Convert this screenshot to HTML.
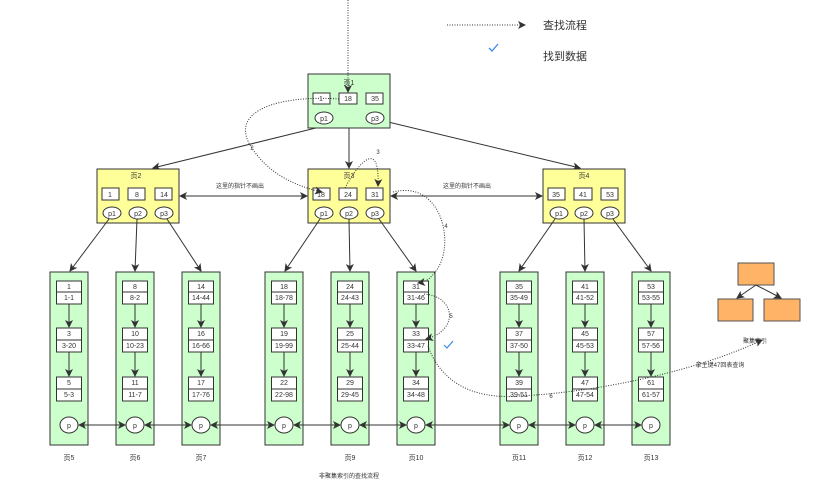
<!DOCTYPE html>
<html><head><meta charset="utf-8"><style>
body{margin:0;background:#fff}
svg{display:block}
text{font-family:"Liberation Sans","Noto Sans CJK SC",sans-serif;fill:#333}
</style></head><body>
<svg width="819" height="502" viewBox="0 0 819 502" xmlns="http://www.w3.org/2000/svg">
<defs>
<marker id="a" markerWidth="8" markerHeight="8" refX="7" refY="4" orient="auto" markerUnits="userSpaceOnUse"><path d="M0,0 L8,4 L0,8 L2,4 z" fill="#333"/></marker>
<marker id="b" markerWidth="8" markerHeight="8" refX="1" refY="4" orient="auto" markerUnits="userSpaceOnUse"><path d="M8,0 L0,4 L8,8 L6,4 z" fill="#333"/></marker>
</defs>
<g font-size="7" text-anchor="middle">
<!-- legend -->
<line x1="447" y1="25" x2="525" y2="25" stroke="#333" stroke-dasharray="1,1.5" marker-end="url(#a)"/>
<text x="565" y="29" font-size="11">查找流程</text>
<path d="M489,48 l3,3 l6,-7" stroke="#3c8ce7" stroke-width="1.3" fill="none"/>
<text x="565" y="60" font-size="11">找到数据</text>

<!-- connectors top -->
<line x1="324" y1="126" x2="153" y2="168" stroke="#333" marker-end="url(#a)"/>
<line x1="349" y1="128" x2="349" y2="168" stroke="#333" marker-end="url(#a)"/>
<line x1="384" y1="121" x2="580" y2="168" stroke="#333" marker-end="url(#a)"/>
<line x1="180" y1="196" x2="307" y2="196" stroke="#333" marker-start="url(#b)" marker-end="url(#a)"/>
<line x1="391" y1="196" x2="542" y2="196" stroke="#333" marker-start="url(#b)" marker-end="url(#a)"/>
<text x="240" y="188" font-size="6">这里的指针不画出</text>
<text x="467" y="188" font-size="6">这里的指针不画出</text>

<!-- page1 -->
<rect x="308" y="74" width="82" height="54" fill="#ccffcc" stroke="#333"/>
<text x="349" y="85">页1</text>
<rect x="313" y="93" width="17" height="11" fill="#fff" stroke="#333"/><text x="321" y="101">1</text>
<rect x="339" y="93" width="18" height="11" fill="#fff" stroke="#333"/><text x="348" y="101">18</text>
<rect x="366" y="93" width="17" height="11" fill="#fff" stroke="#333"/><text x="375" y="101">35</text>
<ellipse cx="324" cy="118" rx="9" ry="6" fill="#fff" stroke="#333"/><text x="324" y="121">p1</text>
<ellipse cx="375" cy="118" rx="9" ry="6" fill="#fff" stroke="#333"/><text x="375" y="121">p3</text>

<!-- page2 -->
<rect x="97" y="169" width="82" height="54" fill="#ffff99" stroke="#333"/>
<text x="136" y="178">页2</text>
<rect x="102" y="188" width="17" height="12" fill="#fff" stroke="#333"/><text x="110" y="197">1</text>
<rect x="128" y="188" width="17" height="12" fill="#fff" stroke="#333"/><text x="137" y="197">8</text>
<rect x="155" y="188" width="17" height="12" fill="#fff" stroke="#333"/><text x="164" y="197">14</text>
<ellipse cx="112" cy="213" rx="9" ry="6" fill="#fff" stroke="#333"/><text x="112" y="216">p1</text>
<ellipse cx="138" cy="213" rx="9" ry="6" fill="#fff" stroke="#333"/><text x="138" y="216">p2</text>
<ellipse cx="164" cy="213" rx="9" ry="6" fill="#fff" stroke="#333"/><text x="164" y="216">p3</text>
<!-- page3 -->
<rect x="308" y="169" width="82" height="54" fill="#ffff99" stroke="#333"/>
<text x="349" y="178">页3</text>
<rect x="313" y="188" width="17" height="12" fill="#fff" stroke="#333"/><text x="321" y="197">18</text>
<rect x="339" y="188" width="18" height="12" fill="#fff" stroke="#333"/><text x="348" y="197">24</text>
<rect x="366" y="188" width="17" height="12" fill="#fff" stroke="#333"/><text x="375" y="197">31</text>
<ellipse cx="324" cy="213" rx="9" ry="6" fill="#fff" stroke="#333"/><text x="324" y="216">p1</text>
<ellipse cx="349" cy="213" rx="9" ry="6" fill="#fff" stroke="#333"/><text x="349" y="216">p2</text>
<ellipse cx="375" cy="213" rx="9" ry="6" fill="#fff" stroke="#333"/><text x="375" y="216">p3</text>
<!-- page4 -->
<rect x="543" y="169" width="82" height="54" fill="#ffff99" stroke="#333"/>
<text x="584" y="178">页4</text>
<rect x="548" y="188" width="17" height="12" fill="#fff" stroke="#333"/><text x="556" y="197">35</text>
<rect x="574" y="188" width="18" height="12" fill="#fff" stroke="#333"/><text x="583" y="197">41</text>
<rect x="601" y="188" width="17" height="12" fill="#fff" stroke="#333"/><text x="610" y="197">53</text>
<ellipse cx="559" cy="213" rx="9" ry="6" fill="#fff" stroke="#333"/><text x="559" y="216">p1</text>
<ellipse cx="584" cy="213" rx="9" ry="6" fill="#fff" stroke="#333"/><text x="584" y="216">p2</text>
<ellipse cx="610" cy="213" rx="9" ry="6" fill="#fff" stroke="#333"/><text x="610" y="216">p3</text>

<!-- down connectors -->
<g stroke="#333" fill="none" marker-end="url(#a)">
<line x1="109" y1="219" x2="70" y2="271"/>
<line x1="137" y1="219" x2="135" y2="271"/>
<line x1="167" y1="219" x2="201" y2="271"/>
<line x1="320" y1="219" x2="285" y2="271"/>
<line x1="349" y1="219" x2="350" y2="271"/>
<line x1="379" y1="219" x2="416" y2="271"/>
<line x1="555" y1="219" x2="519" y2="271"/>
<line x1="584" y1="219" x2="585" y2="271"/>
<line x1="613" y1="219" x2="651" y2="271"/>
</g>

<!-- leaves -->
<g id="leaves">
<!-- col template: rect col, boxes -->
<g transform="translate(50,0)"><rect x="0" y="272" width="38" height="173" fill="#ccffcc" stroke="#333"/><rect x="6.5" y="281" width="25" height="23" fill="#fff" stroke="#333"/><line x1="6.5" y1="292" x2="31.5" y2="292" stroke="#333"/><text x="19" y="289">1</text><text x="19" y="300">1-1</text><rect x="6.5" y="328" width="25" height="24" fill="#fff" stroke="#333"/><line x1="6.5" y1="340" x2="31.5" y2="340" stroke="#333"/><text x="19" y="336">3</text><text x="19" y="348">3-20</text><rect x="6.5" y="377" width="25" height="24" fill="#fff" stroke="#333"/><line x1="6.5" y1="389" x2="31.5" y2="389" stroke="#333"/><text x="19" y="385">5</text><text x="19" y="397">5-3</text><line x1="19" y1="304" x2="19" y2="327" stroke="#333" marker-end="url(#a)"/><line x1="19" y1="352" x2="19" y2="376" stroke="#333" marker-end="url(#a)"/><ellipse cx="19" cy="425" rx="9" ry="8" fill="#fff" stroke="#333"/><text x="19" y="428">p</text><text x="19" y="460">页5</text></g>
<g transform="translate(116,0)"><rect x="0" y="272" width="38" height="173" fill="#ccffcc" stroke="#333"/><rect x="6.5" y="281" width="25" height="23" fill="#fff" stroke="#333"/><line x1="6.5" y1="292" x2="31.5" y2="292" stroke="#333"/><text x="19" y="289">8</text><text x="19" y="300">8-2</text><rect x="6.5" y="328" width="25" height="24" fill="#fff" stroke="#333"/><line x1="6.5" y1="340" x2="31.5" y2="340" stroke="#333"/><text x="19" y="336">10</text><text x="19" y="348">10-23</text><rect x="6.5" y="377" width="25" height="24" fill="#fff" stroke="#333"/><line x1="6.5" y1="389" x2="31.5" y2="389" stroke="#333"/><text x="19" y="385">11</text><text x="19" y="397">11-7</text><line x1="19" y1="304" x2="19" y2="327" stroke="#333" marker-end="url(#a)"/><line x1="19" y1="352" x2="19" y2="376" stroke="#333" marker-end="url(#a)"/><ellipse cx="19" cy="425" rx="9" ry="8" fill="#fff" stroke="#333"/><text x="19" y="428">p</text><text x="19" y="460">页6</text></g>
<g transform="translate(182,0)"><rect x="0" y="272" width="38" height="173" fill="#ccffcc" stroke="#333"/><rect x="6.5" y="281" width="25" height="23" fill="#fff" stroke="#333"/><line x1="6.5" y1="292" x2="31.5" y2="292" stroke="#333"/><text x="19" y="289">14</text><text x="19" y="300">14-44</text><rect x="6.5" y="328" width="25" height="24" fill="#fff" stroke="#333"/><line x1="6.5" y1="340" x2="31.5" y2="340" stroke="#333"/><text x="19" y="336">16</text><text x="19" y="348">16-66</text><rect x="6.5" y="377" width="25" height="24" fill="#fff" stroke="#333"/><line x1="6.5" y1="389" x2="31.5" y2="389" stroke="#333"/><text x="19" y="385">17</text><text x="19" y="397">17-76</text><line x1="19" y1="304" x2="19" y2="327" stroke="#333" marker-end="url(#a)"/><line x1="19" y1="352" x2="19" y2="376" stroke="#333" marker-end="url(#a)"/><ellipse cx="19" cy="425" rx="9" ry="8" fill="#fff" stroke="#333"/><text x="19" y="428">p</text><text x="19" y="460">页7</text></g>
<g transform="translate(265,0)"><rect x="0" y="272" width="38" height="173" fill="#ccffcc" stroke="#333"/><rect x="6.5" y="281" width="25" height="23" fill="#fff" stroke="#333"/><line x1="6.5" y1="292" x2="31.5" y2="292" stroke="#333"/><text x="19" y="289">18</text><text x="19" y="300">18-78</text><rect x="6.5" y="328" width="25" height="24" fill="#fff" stroke="#333"/><line x1="6.5" y1="340" x2="31.5" y2="340" stroke="#333"/><text x="19" y="336">19</text><text x="19" y="348">19-99</text><rect x="6.5" y="377" width="25" height="24" fill="#fff" stroke="#333"/><line x1="6.5" y1="389" x2="31.5" y2="389" stroke="#333"/><text x="19" y="385">22</text><text x="19" y="397">22-98</text><line x1="19" y1="304" x2="19" y2="327" stroke="#333" marker-end="url(#a)"/><line x1="19" y1="352" x2="19" y2="376" stroke="#333" marker-end="url(#a)"/><ellipse cx="19" cy="425" rx="9" ry="8" fill="#fff" stroke="#333"/><text x="19" y="428">p</text></g>
<g transform="translate(331,0)"><rect x="0" y="272" width="38" height="173" fill="#ccffcc" stroke="#333"/><rect x="6.5" y="281" width="25" height="23" fill="#fff" stroke="#333"/><line x1="6.5" y1="292" x2="31.5" y2="292" stroke="#333"/><text x="19" y="289">24</text><text x="19" y="300">24-43</text><rect x="6.5" y="328" width="25" height="24" fill="#fff" stroke="#333"/><line x1="6.5" y1="340" x2="31.5" y2="340" stroke="#333"/><text x="19" y="336">25</text><text x="19" y="348">25-44</text><rect x="6.5" y="377" width="25" height="24" fill="#fff" stroke="#333"/><line x1="6.5" y1="389" x2="31.5" y2="389" stroke="#333"/><text x="19" y="385">29</text><text x="19" y="397">29-45</text><line x1="19" y1="304" x2="19" y2="327" stroke="#333" marker-end="url(#a)"/><line x1="19" y1="352" x2="19" y2="376" stroke="#333" marker-end="url(#a)"/><ellipse cx="19" cy="425" rx="9" ry="8" fill="#fff" stroke="#333"/><text x="19" y="428">p</text><text x="19" y="460">页9</text></g>
<g transform="translate(397,0)"><rect x="0" y="272" width="38" height="173" fill="#ccffcc" stroke="#333"/><rect x="6.5" y="281" width="25" height="23" fill="#fff" stroke="#333"/><line x1="6.5" y1="292" x2="31.5" y2="292" stroke="#333"/><text x="19" y="289">31</text><text x="19" y="300">31-46</text><rect x="6.5" y="328" width="25" height="24" fill="#fff" stroke="#333"/><line x1="6.5" y1="340" x2="31.5" y2="340" stroke="#333"/><text x="19" y="336">33</text><text x="19" y="348">33-47</text><rect x="6.5" y="377" width="25" height="24" fill="#fff" stroke="#333"/><line x1="6.5" y1="389" x2="31.5" y2="389" stroke="#333"/><text x="19" y="385">34</text><text x="19" y="397">34-48</text><line x1="19" y1="304" x2="19" y2="327" stroke="#333" marker-end="url(#a)"/><line x1="19" y1="352" x2="19" y2="376" stroke="#333" marker-end="url(#a)"/><ellipse cx="19" cy="425" rx="9" ry="8" fill="#fff" stroke="#333"/><text x="19" y="428">p</text><text x="19" y="460">页10</text></g>
<g transform="translate(500,0)"><rect x="0" y="272" width="38" height="173" fill="#ccffcc" stroke="#333"/><rect x="6.5" y="281" width="25" height="23" fill="#fff" stroke="#333"/><line x1="6.5" y1="292" x2="31.5" y2="292" stroke="#333"/><text x="19" y="289">35</text><text x="19" y="300">35-49</text><rect x="6.5" y="328" width="25" height="24" fill="#fff" stroke="#333"/><line x1="6.5" y1="340" x2="31.5" y2="340" stroke="#333"/><text x="19" y="336">37</text><text x="19" y="348">37-50</text><rect x="6.5" y="377" width="25" height="24" fill="#fff" stroke="#333"/><line x1="6.5" y1="389" x2="31.5" y2="389" stroke="#333"/><text x="19" y="385">39</text><text x="19" y="397">39-51</text><line x1="19" y1="304" x2="19" y2="327" stroke="#333" marker-end="url(#a)"/><line x1="19" y1="352" x2="19" y2="376" stroke="#333" marker-end="url(#a)"/><ellipse cx="19" cy="425" rx="9" ry="8" fill="#fff" stroke="#333"/><text x="19" y="428">p</text><text x="19" y="460">页11</text></g>
<g transform="translate(566,0)"><rect x="0" y="272" width="38" height="173" fill="#ccffcc" stroke="#333"/><rect x="6.5" y="281" width="25" height="23" fill="#fff" stroke="#333"/><line x1="6.5" y1="292" x2="31.5" y2="292" stroke="#333"/><text x="19" y="289">41</text><text x="19" y="300">41-52</text><rect x="6.5" y="328" width="25" height="24" fill="#fff" stroke="#333"/><line x1="6.5" y1="340" x2="31.5" y2="340" stroke="#333"/><text x="19" y="336">45</text><text x="19" y="348">45-53</text><rect x="6.5" y="377" width="25" height="24" fill="#fff" stroke="#333"/><line x1="6.5" y1="389" x2="31.5" y2="389" stroke="#333"/><text x="19" y="385">47</text><text x="19" y="397">47-54</text><line x1="19" y1="304" x2="19" y2="327" stroke="#333" marker-end="url(#a)"/><line x1="19" y1="352" x2="19" y2="376" stroke="#333" marker-end="url(#a)"/><ellipse cx="19" cy="425" rx="9" ry="8" fill="#fff" stroke="#333"/><text x="19" y="428">p</text><text x="19" y="460">页12</text></g>
<g transform="translate(632,0)"><rect x="0" y="272" width="38" height="173" fill="#ccffcc" stroke="#333"/><rect x="6.5" y="281" width="25" height="23" fill="#fff" stroke="#333"/><line x1="6.5" y1="292" x2="31.5" y2="292" stroke="#333"/><text x="19" y="289">53</text><text x="19" y="300">53-55</text><rect x="6.5" y="328" width="25" height="24" fill="#fff" stroke="#333"/><line x1="6.5" y1="340" x2="31.5" y2="340" stroke="#333"/><text x="19" y="336">57</text><text x="19" y="348">57-56</text><rect x="6.5" y="377" width="25" height="24" fill="#fff" stroke="#333"/><line x1="6.5" y1="389" x2="31.5" y2="389" stroke="#333"/><text x="19" y="385">61</text><text x="19" y="397">61-57</text><line x1="19" y1="304" x2="19" y2="327" stroke="#333" marker-end="url(#a)"/><line x1="19" y1="352" x2="19" y2="376" stroke="#333" marker-end="url(#a)"/><ellipse cx="19" cy="425" rx="9" ry="8" fill="#fff" stroke="#333"/><text x="19" y="428">p</text><text x="19" y="460">页13</text></g>
</g>

<!-- p links -->
<g stroke="#333" marker-start="url(#b)" marker-end="url(#a)">
<line x1="79" y1="425" x2="125" y2="425"/>
<line x1="145" y1="425" x2="191" y2="425"/>
<line x1="211" y1="425" x2="274" y2="425"/>
<line x1="294" y1="425" x2="340" y2="425"/>
<line x1="360" y1="425" x2="406" y2="425"/>
<line x1="426" y1="425" x2="509" y2="425"/>
<line x1="529" y1="425" x2="575" y2="425"/>
<line x1="595" y1="425" x2="641" y2="425"/>
</g>

<!-- dotted search path -->
<g stroke="#333" fill="none" stroke-dasharray="1,1.5">
<line x1="348" y1="0" x2="348" y2="92" marker-end="url(#a)"/>
<path d="M339,99 C280,95 230,110 250,145 C265,170 290,185 322,192" marker-end="url(#a)"/>
<path d="M345,188 C360,160 380,140 378,186" marker-end="url(#a)"/>
<path d="M393,192 C440,180 455,240 438,268 C430,280 425,282 418,283" marker-end="url(#a)"/>
<path d="M424,294 C455,296 460,330 426,339" marker-end="url(#a)"/>
<path d="M428,346 C440,380 470,400 520,396 C600,392 700,370 762,340" marker-end="url(#a)"/>
</g>
<text x="252" y="150" font-size="6">2</text>
<text x="378" y="154" font-size="6">3</text>
<text x="446" y="228" font-size="6">4</text>
<text x="451" y="318" font-size="6">5</text>
<text x="551" y="398" font-size="6">6</text>
<path d="M444,345 l3,3 l6,-7" stroke="#3c8ce7" stroke-width="1.2" fill="none"/>

<!-- clustered index icon -->
<rect x="738" y="263" width="36" height="22" fill="#ffb366" stroke="#555"/>
<rect x="718" y="299" width="35" height="22" fill="#ffb366" stroke="#555"/>
<rect x="764" y="299" width="36" height="22" fill="#ffb366" stroke="#555"/>
<line x1="756" y1="285" x2="737" y2="298" stroke="#333" marker-end="url(#a)"/>
<line x1="756" y1="285" x2="781" y2="298" stroke="#333" marker-end="url(#a)"/>
<text x="755" y="343" font-size="6">聚集索引</text>
<text x="720" y="367" font-size="6">拿主键47回表查询</text>
<text x="349" y="478" font-size="6">非聚集索引的查找流程</text>
</g>
</svg>
</body></html>
